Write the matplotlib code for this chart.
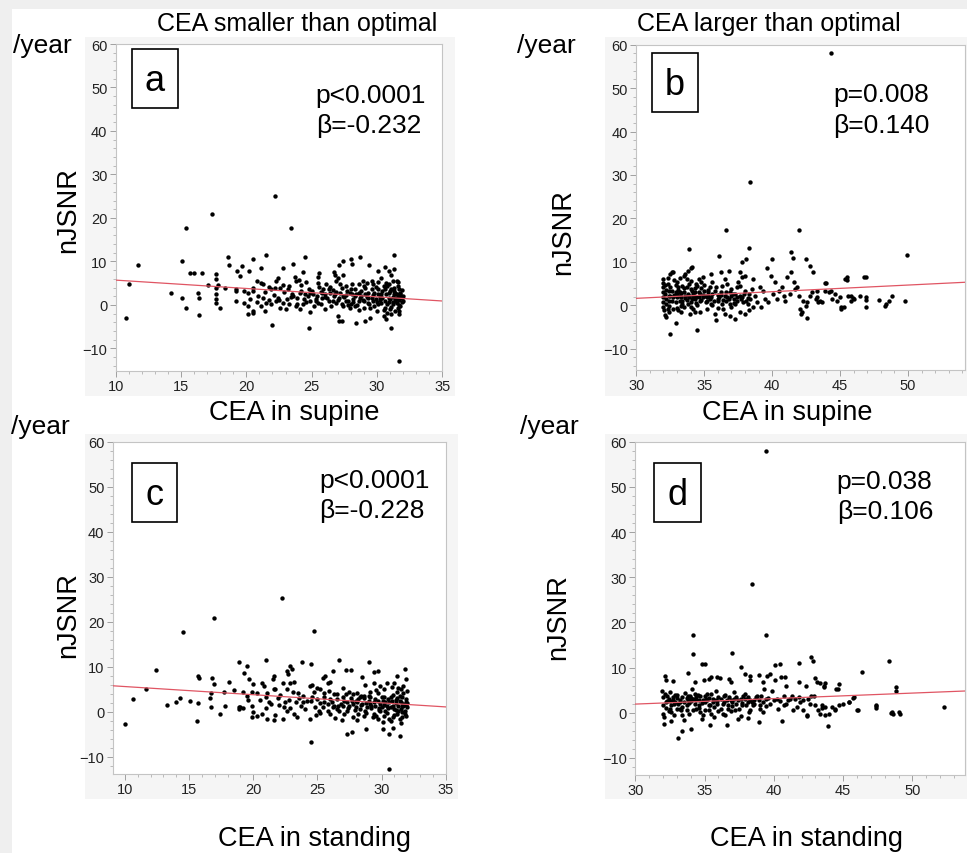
import matplotlib
matplotlib.use('Agg')
import matplotlib.pyplot as plt
from matplotlib.patches import Rectangle
from matplotlib.ticker import MultipleLocator

plt.rcParams['font.family'] = ['Liberation Sans', 'DejaVu Sans']

W, H = 967, 854

# ---- data (x = CEA, y = nJSNR /year) ----
pts_a = [
    (10.8, -3.0), (11.0, 4.9), (11.7, 9.1), (14.2, 2.8), (15.1, 10.0), (15.1, 1.5), (15.4, 17.6), (15.4, -0.6),
    (15.7, 7.4), (16.0, 7.4), (16.3, 2.7), (16.4, 1.6), (16.4, -2.3), (16.6, 7.4), (17.1, 4.6), (17.4, 20.8),
    (17.7, 7.0), (17.7, 6.0), (17.8, 4.5), (17.7, 3.8), (17.7, 2.6), (17.7, 1.3), (17.7, 0.4), (18.0, -0.6),
    (18.6, 11.0), (18.7, 9.2), (19.7, 9.0), (20.5, 10.5), (21.5, 11.4), (24.5, 11.0), (28.0, 10.5), (28.7, 11.1),
    (31.3, 11.5), (27.4, 10.0), (27.1, 9.1), (28.1, 9.5),
    (19.3, 7.7), (19.5, 6.7), (20.2, 7.7), (21.1, 8.4), (22.8, 8.4), (23.6, 9.4), (24.3, 7.6), (25.6, 7.3),
    (26.7, 7.6), (26.8, 6.8), (27.4, 6.8), (29.4, 9.2), (30.1, 7.7), (30.6, 8.8), (30.9, 7.7), (31.3, 8.3),
    (31.1, 6.8), (31.5, 5.5),
    (18.4, 3.8), (19.2, 3.6), (19.8, 3.2), (20.1, 2.8), (20.5, 3.8), (20.8, 5.5), (21.1, 5.0), (21.3, 4.7),
    (21.7, 4.2), (21.9, 3.6), (22.3, 5.5), (22.4, 6.3), (22.6, 4.0), (22.8, 4.5), (23.2, 3.7), (23.3, 4.4),
    (23.7, 6.5), (23.8, 5.5), (24.0, 5.7), (24.2, 4.5), (24.6, 5.3), (24.8, 3.7), (25.5, 6.4), (25.5, 5.1),
    (25.6, 4.2), (25.9, 3.6), (26.1, 4.9), (26.4, 4.2), (26.9, 5.5), (27.0, 6.1), (27.2, 4.9), (27.6, 4.4),
    (28.1, 4.9), (28.3, 3.7), (28.6, 4.7), (28.9, 5.5), (29.0, 4.4), (29.2, 5.1), (29.6, 5.5), (29.7, 4.7),
    (30.1, 5.3), (30.3, 6.1), (30.5, 4.4), (30.7, 5.1), (30.9, 4.7), (31.2, 5.5), (31.3, 4.0), (31.6, 5.3),
    (31.7, 3.6),
    (19.2, 0.9), (19.8, 0.5), (20.1, -0.2), (20.5, -1.4), (20.1, -2.2), (20.5, -1.8), (21.1, -0.2), (21.3, 1.7),
    (21.5, 0.5), (21.4, -1.4), (21.9, 0.3), (22.3, 0.9), (22.4, 1.7), (22.6, -0.6), (22.8, 0.5), (23.1, 1.3),
    (23.3, 0.1), (23.6, 2.1), (23.8, -0.2), (24.1, -1.0), (24.4, 1.3), (24.7, 2.1), (24.9, 0.9), (25.2, -0.2),
    (25.5, 0.5), (25.8, 1.7), (26.0, -1.0), (26.3, 0.9), (26.5, -0.2), (26.7, 2.1), (26.9, 0.5), (27.0, -2.6),
    (27.1, -3.7), (27.3, -3.7), (27.4, -0.2), (27.6, 0.9), (27.9, -0.6), (28.1, 2.4), (28.3, -0.2), (28.4, -4.1),
    (28.6, 0.9), (28.8, 2.1), (29.0, -0.6), (29.1, -3.7), (29.3, 0.5), (29.5, -2.9), (29.6, 1.7), (29.8, -0.2),
    (30.0, -1.4), (30.1, 2.4), (30.3, 0.5), (30.5, -2.6), (30.6, -0.6), (30.7, -3.3), (30.9, 1.7), (31.0, -1.0),
    (31.1, -2.2), (31.2, 0.1), (31.3, 2.4), (31.5, 1.3), (31.6, -0.6), (31.8, 2.4), (31.7, -2.2),
    (22.0, -4.7), (24.8, -5.2), (31.1, -5.4), (31.7, -12.8), (22.2, 25.1), (23.4, 17.7),
    (24.1, 2.8), (24.5, 2.4), (24.9, 2.8), (25.1, 2.4), (25.4, 2.1), (25.8, 2.8), (26.0, 2.4), (26.4, 2.8),
    (26.8, 2.4), (27.2, 2.8), (27.4, 2.1), (27.7, 3.2), (27.9, 2.8), (28.3, 2.1), (28.6, 2.8), (28.8, 3.2),
    (29.1, 2.4), (29.3, 2.8), (29.6, 3.6), (29.8, 2.8), (30.1, 3.6), (30.3, 2.4), (30.6, 3.6), (30.9, 2.8),
    (31.1, 3.6), (31.4, 2.8), (31.6, 2.1), (31.8, 2.8), (32.0, 2.1),
    (26.2, 1.5), (26.6, 3.4), (27.0, 1.2), (27.3, 0.3), (27.5, 1.8), (27.8, 1.0), (28.0, 0.2), (28.2, 1.4),
    (28.5, 0.0), (28.7, 1.6), (29.0, 0.8), (29.2, 1.9), (29.4, 0.3), (29.7, 0.9), (29.9, 1.4), (30.0, 0.6),
    (30.2, 1.1), (30.4, 1.7), (30.6, 0.9), (30.8, 0.2), (31.0, 1.3), (31.2, 0.7), (31.4, 1.6), (31.5, 0.4),
    (31.7, 1.1), (31.9, 0.6), (31.9, 1.5), (31.8, -0.3), (31.4, -1.3), (30.8, -1.8), (25.3, 1.3), (25.7, 0.2),
    (24.3, 0.3), (23.9, 1.6), (23.5, 2.6), (22.9, 2.9), (22.1, 2.3), (21.7, 1.1), (20.9, 2.0), (20.3, 1.4),
    (19.2, 3.1), (20.5, 3.3),
    (25.0, 3.3), (25.3, 0.8), (25.7, 3.0), (26.0, 1.9), (26.3, 3.6), (26.6, 1.0), (26.9, 2.9), (27.1, 1.6),
    (27.3, 3.8), (27.6, 2.3), (27.8, -0.1), (28.0, 3.6), (28.2, 0.6), (28.4, 2.6), (28.6, -1.2), (28.9, 1.2),
    (29.1, 3.9), (29.3, 1.5), (29.5, -0.8), (29.7, 2.2), (29.9, 4.1), (30.1, 0.2), (30.2, 1.9), (30.4, 3.2),
    (30.5, -1.1), (30.7, 2.4), (30.8, 4.3), (30.9, 0.6), (31.0, 3.1), (31.1, -0.4), (31.2, 1.9), (31.3, 3.3),
    (31.4, 0.9), (31.5, 2.6), (31.6, 4.4), (31.7, 0.0), (31.8, 1.8), (31.9, 3.5), (32.0, 0.9), (31.7, -1.4),
    (22.5, 1.2), (23.0, -0.9), (23.4, 1.8), (23.9, 0.1), (24.2, 3.3), (24.6, 0.7), (24.9, -1.6), (22.2, 3.9),
    (21.4, 2.9), (20.8, 0.6),
]

pts_b = [
    (44.3, 58.0), (38.4, 28.5), (36.6, 17.3), (42.0, 17.3), (33.9, 13.0), (38.3, 13.2), (36.1, 11.3), (49.95, 11.5),
    (41.4, 12.2), (41.5, 11.0), (42.5, 10.7), (40.0, 10.7), (42.8, 9.0), (43.0, 7.7), (32.5, -6.6), (34.5, -5.8),
    (32.9, -4.1), (35.9, -3.5), (37.3, -3.1), (42.1, -2.1), (42.6, -3.0), (49.8, 1.1), (48.8, 2.2), (48.6, 1.1),
    (48.3, -0.1), (47.9, 1.3), (46.8, 6.4), (46.9, 1.3), (46.9, -0.3), (45.5, 6.4), (45.5, 5.9), (45.1, -0.9),
    (45.1, -0.4), (46.0, 1.4), (45.8, 2.2), (43.9, 5.1), (44.2, 3.0), (44.4, 1.4), (44.6, 2.6), (43.4, 0.8),
    (43.3, 1.8), (43.7, 0.7), (42.8, 2.2), (42.6, 0.7), (38.1, 10.7), (37.8, 10.0),
    (32.0, 6.05), (32.0, 5.1), (32.0, 4.1), (32.0, 3.0), (32.0, 1.8), (32.0, 0.7), (32.0, -0.3), (32.05, -1.2),
    (32.1, -2.2), (32.2, -2.8), (32.3, 6.2), (32.3, 4.9), (32.4, 3.4), (32.4, 2.2), (32.4, 1.1), (32.4, -0.1),
    (32.4, -1.6), (32.5, 7.2), (32.6, 7.6), (32.7, 7.7),
    (33.0, 5.3), (33.1, 4.1), (33.2, 3.0), (33.0, 1.8), (33.2, 1.1), (33.3, -0.1), (33.1, -1.2), (33.3, -1.6),
    (33.5, 6.8), (33.6, 7.2), (33.7, 6.05), (33.8, 8.0), (34.0, 8.5), (34.1, 8.9), (33.9, 4.9), (34.0, 3.7),
    (34.2, 2.6), (34.1, 1.5), (33.8, 0.3), (34.2, -0.9), (33.96, -2.0), (34.3, -1.6),
    (34.5, 4.5), (34.65, 6.05), (34.75, 5.3), (34.9, 6.4), (35.0, 3.4), (35.1, 2.2), (35.2, 1.1), (35.4, 4.1),
    (35.5, 7.2), (35.6, 5.3), (35.2, -0.9), (34.7, -1.6),
    (35.9, 4.1), (36.0, 2.4), (36.1, 1.8), (36.2, 7.6), (36.3, 0.3), (36.4, -0.9), (36.5, 6.05), (36.7, 4.9),
    (36.8, 8.0), (36.9, 3.0), (37.0, 2.2), (37.2, 1.5), (37.3, 0.3), (37.4, 4.1), (37.5, 5.3), (37.65, 7.6),
    (37.8, 6.4), (38.0, 6.8), (35.8, -2.0), (36.5, -2.0), (36.9, -2.5), (37.65, -1.5), (38.0, -2.0), (38.3, -1.2),
    (38.3, 2.6), (38.4, 1.5), (38.5, 3.7), (38.6, 6.05), (38.75, 2.2), (38.9, 0.7), (39.1, 4.1), (39.3, 3.4),
    (39.5, 1.5), (39.6, 8.5), (39.7, 0.7), (39.9, 6.8), (40.1, 2.6), (40.2, 5.3), (40.35, 1.5), (40.5, 3.4),
    (40.7, 4.1), (40.84, 2.2), (40.97, 1.1), (41.1, 6.4), (41.3, 2.6), (41.4, 7.6), (41.6, 5.3), (41.7, 3.7),
    (41.8, 4.1), (41.95, 2.2), (42.07, -0.9), (42.2, -1.6), (42.3, 1.1), (42.5, -0.1), (42.9, 3.0), (43.2, 1.5),
    (43.3, 3.4), (43.5, 1.1), (43.9, 3.4), (44.0, 5.1), (44.3, 3.4), (44.8, 1.1), (45.0, 1.8), (45.3, -0.5),
    (45.4, 6.05), (45.6, 2.2), (45.8, 1.1), (45.95, 1.6), (46.5, 2.2), (46.9, 6.4), (46.9, 1.8), (48.4, 0.3),
    (32.1, 2.6), (32.2, 1.5), (32.5, 2.2), (32.6, 1.1), (32.7, 1.8), (32.9, 3.0), (32.9, 0.7), (33.0, 2.6),
    (33.2, 2.2), (33.3, 1.8), (33.4, 1.1), (33.5, 3.0), (33.6, 2.2), (33.7, 1.3), (33.8, 2.6), (33.9, 1.8),
    (34.0, 0.8), (34.2, 2.2), (34.3, 1.5), (34.3, 3.0), (34.4, 0.5), (34.6, 1.8), (34.7, 2.6), (34.8, 1.3),
    (34.9, 1.8), (35.1, 0.7), (35.3, 2.2), (35.4, 1.5), (35.6, 2.6), (35.7, 1.1), (36.05, 1.5), (36.2, 3.0),
    (36.4, 1.3), (36.5, 2.2), (36.6, 1.1), (36.7, 1.8), (36.9, 0.3), (37.1, 2.6), (37.4, 1.8), (37.45, 1.1),
    (37.6, 2.2), (37.7, 1.5), (37.85, 0.7), (37.9, 2.6), (38.1, 1.1),
    (34.0, 5.5), (33.4, 4.5), (32.8, 5.8), (33.2, 6.3), (34.4, 4.8), (34.8, 3.9), (35.3, 3.1), (32.2, 0.2),
    (32.7, -0.8), (33.5, -0.5), (34.5, 0.0), (35.5, 0.4), (36.0, -0.6), (37.0, -0.4), (38.2, 0.3), (38.6, -0.5),
    (39.2, -0.3),
    (32.1, 4.6), (32.2, 3.6), (32.3, -0.9), (32.5, 4.3), (32.6, 3.2), (32.8, 2.4), (32.9, 4.6), (33.0, -0.6),
    (33.1, 3.5), (33.3, 2.8), (33.4, 0.4), (33.5, 3.9), (33.6, 1.6), (33.7, 4.3), (33.9, 2.2), (34.0, -0.3),
    (34.1, 3.3), (34.3, 4.0), (34.4, 1.9), (34.6, 3.0), (34.7, 0.9), (34.9, 2.4), (35.0, 4.6), (35.2, 1.8),
    (35.3, 3.6), (35.5, 2.0), (35.6, 0.0), (35.8, 3.3), (36.0, 1.0), (36.2, 2.3), (36.3, 4.4), (36.6, 3.0),
    (36.8, 1.4), (37.0, 3.8), (37.2, 0.6), (37.3, 2.6), (37.6, 4.5), (37.8, 1.9), (38.0, 3.2), (38.2, 1.7),
]

pts_c = [
    (10.0, -2.8), (10.6, 2.9), (11.6, 5.0), (12.4, 9.3), (13.3, 1.6), (14.0, 2.2), (14.3, 3.1), (14.5, 17.7),
    (15.1, 2.5), (15.6, -2.1), (15.7, 1.9), (16.7, 4.3), (16.9, 20.9), (18.9, 0.6), (19.0, 1.0), (22.2, 25.2),
    (24.7, 18.0), (24.5, -6.6), (30.6, -12.6),
    (18.9, 11.1), (19.5, 10.2), (21.0, 11.5), (23.8, 11.1), (24.5, 10.7), (26.7, 11.6), (29.0, 11.1), (27.2, 9.2),
    (27.6, 9.2), (19.3, 8.6), (19.7, 7.4), (21.6, 8.0), (21.5, 7.3), (22.6, 9.0), (22.9, 10.1), (23.0, 9.6),
    (22.7, 8.4), (25.6, 7.9), (26.2, 9.0), (25.4, 7.6), (29.4, 8.8), (29.7, 9.0), (31.8, 9.6), (31.2, 8.0),
    (31.9, 7.4), (28.5, 7.8),
    (15.7, 7.9), (15.8, 7.5), (16.8, 7.5), (16.9, 6.2), (18.1, 6.7), (17.7, 4.5), (18.5, 4.8), (19.2, 4.5),
    (19.5, 3.6), (19.6, 2.7), (20.0, 6.2), (19.9, 4.5), (20.3, 4.3), (20.7, 6.3), (20.8, 5.8), (21.1, 4.2),
    (21.0, 3.4), (21.6, 5.0), (21.7, 5.0), (22.1, 3.7), (22.3, 6.5), (22.6, 5.0), (22.9, 6.4), (23.2, 6.7),
    (23.1, 4.5), (23.5, 4.3), (23.9, 3.6), (24.4, 5.8), (24.6, 5.9), (24.7, 4.5), (25.0, 5.4), (25.2, 5.0),
    (25.5, 4.3), (25.8, 6.5), (26.0, 6.7), (26.3, 3.9), (26.5, 3.9), (27.0, 5.4), (27.5, 4.5), (27.8, 3.9),
    (28.1, 4.3), (28.4, 3.6), (28.7, 5.9), (29.1, 4.5), (29.4, 6.5), (29.7, 4.3), (29.9, 5.8), (30.2, 5.0),
    (30.4, 6.5), (30.8, 5.6), (31.0, 6.5), (31.2, 4.5), (31.5, 5.0), (31.7, 5.8), (32.0, 4.7),
    (16.6, 3.0), (16.7, 1.1), (17.4, -0.5), (17.8, 1.4), (18.9, 1.1), (19.2, 0.8), (19.9, 1.2), (20.0, -0.1),
    (19.9, -1.2), (20.3, -0.9), (20.7, -0.5), (21.0, 0.8), (21.1, -1.6), (21.4, 1.7), (21.6, -1.8), (21.7, -0.7),
    (22.0, 1.5), (22.3, -1.6), (22.5, 2.1), (22.6, 0.2), (22.9, 0.8), (23.2, -0.5), (23.4, -1.2), (23.7, 1.4),
    (23.9, 2.1), (24.2, 2.5), (24.4, -1.5), (24.8, 1.0), (25.1, 0.2), (25.2, -0.3), (25.5, 2.1), (25.8, 0.2),
    (26.0, -0.5), (26.3, 1.4), (26.5, 0.6), (26.9, -1.8), (27.1, -0.5), (27.3, 0.2), (27.5, 1.4), (27.8, -1.2),
    (28.1, 2.1), (28.3, 0.6), (28.6, -0.9), (28.9, 1.0), (29.1, 1.7), (29.4, -0.5), (29.7, -1.6), (29.9, 0.2),
    (30.2, -0.9), (30.4, 1.4), (30.7, -2.0), (31.0, 0.6), (31.2, -0.5), (31.4, -1.6), (31.6, -0.1), (31.9, -0.9),
    (32.0, 1.0),
    (24.5, 2.5), (25.0, 2.8), (25.5, 3.2), (26.0, 2.8), (26.5, 2.8), (27.1, 2.5), (27.6, 3.0), (28.0, 2.5),
    (28.2, 2.8), (28.6, 3.0), (28.8, 1.9), (29.0, 2.5), (29.4, 2.2), (29.7, 2.5), (29.9, 1.7), (30.1, 2.5),
    (30.3, 2.2), (30.6, 2.1), (30.8, 2.5), (31.1, 1.9), (31.4, 2.5), (31.5, 2.1), (31.7, 1.7), (31.9, 2.2),
    (29.1, 3.2), (28.6, 3.6), (30.2, 3.2), (30.7, 3.4), (31.2, 3.0), (31.6, 3.2), (27.8, 1.7), (27.3, 2.1),
    (26.8, 1.7), (25.8, 1.7), (25.2, 1.9),
    (27.3, -5.0), (27.7, -4.4), (28.8, -3.7), (30.6, -5.0), (31.4, -5.3), (30.1, -3.8), (30.9, -3.5),
    (26.2, 1.1), (26.7, 0.3), (27.0, 1.3), (27.9, 0.4), (28.4, 1.5), (28.7, 0.2), (29.2, 0.9), (29.5, 1.3),
    (29.8, 0.5), (30.0, 1.1), (30.3, 0.1), (30.5, 0.9), (30.9, 1.4), (31.1, 0.4), (31.3, 1.2), (31.5, 0.7),
    (31.7, 1.3), (31.8, 0.3), (31.9, 1.6), (31.6, -1.1), (30.9, -1.2), (30.1, -2.3), (29.3, -1.1), (28.2, -0.4),
    (24.0, 0.6), (23.6, 3.1), (22.8, 2.6), (21.9, 3.0), (21.2, 2.2), (20.5, 2.7), (24.9, -0.6), (26.4, -1.3),
    (26.1, 2.1), (26.6, 1.2), (27.0, 3.3), (27.4, 0.8), (27.7, 2.4), (28.0, 1.1), (28.3, 3.2), (28.5, 1.8),
    (28.8, -0.3), (29.0, 3.6), (29.2, 1.4), (29.5, 2.8), (29.8, 0.9), (30.0, 3.4), (30.2, 1.6), (30.4, -0.2),
    (30.5, 2.9), (30.7, 1.1), (30.9, 3.7), (31.0, -0.6), (31.1, 2.7), (31.3, 0.2), (31.4, 3.6), (31.6, 1.4),
    (31.7, 4.1), (31.8, -0.4), (31.9, 2.9), (32.0, 1.9), (31.5, -2.4), (30.6, -1.5), (29.6, -0.9), (28.1, -1.9),
    (25.4, 1.0), (24.6, 3.3), (23.3, 2.3), (22.4, 1.0), (25.9, 4.6), (27.2, 4.0), (29.6, 4.8), (31.3, 5.4),
]

pts_d = [
    (39.4, 57.9), (38.4, 28.6), (34.2, 17.3), (39.4, 17.3), (34.2, 13.1), (37.0, 13.2), (48.3, 11.5), (52.3, 1.2),
    (41.8, 10.9), (42.7, 12.3), (42.8, 11.4), (46.4, 9.0), (37.6, 10.1), (34.8, 10.8), (35.0, 10.8), (33.8, 8.8),
    (33.1, -5.6), (33.4, -4.0), (34.0, -3.7), (43.9, -3.0), (40.6, -1.9), (42.4, -0.8), (44.6, 5.2), (44.7, 6.4),
    (45.0, 2.0), (45.4, 2.3), (45.8, 3.4), (46.1, 0.6), (47.4, 1.6), (47.4, 1.1), (48.45, -0.1), (48.6, -0.4),
    (48.8, 5.6), (48.8, 4.9), (49.0, 0.05), (49.1, -0.25), (43.6, 5.8), (43.7, 6.5), (43.1, 6.7), (43.0, 7.6),
    (43.7, 1.2), (43.3, -0.25), (44.0, -0.3), (44.4, 0.5), (43.5, 1.7),
    (32.15, 8.1), (32.2, 7.3), (32.75, 7.1), (34.3, 6.8), (34.94, 7.3), (35.3, 7.5), (35.5, 7.9), (35.9, 8.0),
    (36.1, 7.7), (36.8, 7.5), (36.9, 6.8), (37.9, 8.6), (38.3, 8.2), (38.3, 7.3), (38.9, 8.4), (39.25, 6.8),
    (39.3, 5.3), (39.5, 8.1), (39.7, 8.6), (39.85, 4.9), (40.1, 10.6), (40.1, 7.3), (40.45, 10.8), (40.55, 7.9),
    (40.8, 7.8), (40.9, 6.0), (41.3, 3.8), (41.85, 6.8), (42.3, 5.9), (42.7, 3.8), (43.3, 6.6), (43.65, 5.65),
    (44.5, 5.3), (45.7, 3.2),
    (31.9, 4.9), (32.15, 4.2), (32.4, 3.1), (32.0, 1.6), (32.0, -0.25), (32.1, -1.0), (32.2, 2.3), (32.5, 0.9),
    (32.6, 1.6), (32.75, 2.7), (33.0, 3.2), (33.1, 2.0), (33.2, 0.9), (33.35, -0.6), (33.5, -1.7), (33.7, 1.6),
    (33.8, 2.7), (33.95, 3.8), (34.1, 5.3), (34.3, 4.2), (34.4, 2.7), (34.6, 1.6), (34.7, 0.1), (34.8, -1.4),
    (35.0, 2.3), (35.2, 4.2), (35.4, 1.6), (35.5, -0.25), (35.6, 3.1), (35.8, 4.9), (36.0, 3.4), (36.2, 0.9),
    (36.4, 2.3), (36.5, -0.6), (36.6, -2.8), (36.7, 1.6), (36.8, 3.4), (37.1, 4.55), (37.2, 0.5), (37.3, 2.0),
    (37.4, -1.4), (37.6, 3.1), (37.8, 3.8), (38.0, 1.6), (38.2, 0.1), (38.3, 2.7), (38.5, 1.6), (38.7, 3.4),
    (38.9, -2.1), (39.0, 0.9), (39.2, 0.1), (39.25, 2.3), (39.4, 3.1), (39.7, 2.0), (40.0, 2.7), (40.3, 0.9),
    (40.7, 1.6), (40.9, 2.0), (41.2, 3.1), (41.4, 0.5), (41.65, 1.2), (41.9, 2.3), (42.1, 0.7), (42.4, -0.6),
    (42.6, 2.0), (43.0, 1.6), (43.2, 0.5), (43.5, 1.0), (43.7, -0.6), (44.2, 1.2), (44.4, 0.9), (44.7, 1.6),
    (45.4, 2.3), (46.0, 0.7), (47.4, 1.45), (48.5, 0.1),
    (32.3, 3.8), (32.5, 2.5), (32.7, 3.4), (32.9, 2.3), (33.0, 4.0), (33.2, 2.9), (33.35, 3.4), (33.5, 2.3),
    (33.7, 3.2), (33.8, 3.7), (34.0, 2.5), (34.15, 3.1), (34.4, 3.4), (34.6, 2.7), (34.7, 3.7), (34.9, 2.9),
    (35.0, 3.7), (35.2, 2.7), (35.35, 3.2), (35.6, 2.3), (35.8, 2.9), (35.9, 2.0), (36.2, 3.1), (36.4, 3.7),
    (36.6, 2.7), (36.96, 2.3), (37.1, 3.1), (37.4, 2.7), (37.7, 2.2), (37.9, 3.1), (38.1, 3.4), (38.4, 2.3),
    (38.6, 2.9), (38.9, 2.7), (39.1, 3.8), (39.4, 1.45), (39.6, 3.2), (40.2, 3.1), (40.45, 2.5), (40.7, 3.7),
    (41.05, 2.7), (41.5, 3.1), (41.8, 3.4), (42.1, 2.7), (42.5, 3.1), (42.9, 3.7),
    (35.4, -2.8), (32.4, 0.3), (32.8, -0.5), (33.3, 0.6), (33.9, -0.2), (34.4, 0.9), (34.9, -0.6), (35.3, 0.5),
    (35.7, -1.0), (36.3, -0.3), (36.9, 0.3), (37.6, -0.8), (38.1, -1.2), (32.1, -2.6), (32.6, -1.8),
    (32.0, 3.5), (32.2, 1.1), (32.3, 2.6), (32.5, 4.5), (32.6, 0.2), (32.8, 1.9), (32.9, 3.9), (33.0, 0.9),
    (33.2, 2.4), (33.4, 1.2), (33.6, 4.3), (33.7, 0.5), (33.9, 2.1), (34.0, 3.3), (34.2, 0.6), (34.3, 2.0),
    (34.5, 3.9), (34.6, 1.1), (34.8, 2.2), (35.0, 0.6), (35.1, 3.0), (35.3, 1.8), (35.5, 4.1), (35.7, 1.3),
    (35.9, 2.6), (36.0, 0.3), (36.3, 1.9), (36.5, 3.9), (36.7, 0.8), (36.9, 2.9), (37.0, 1.5), (37.3, 3.4),
    (37.5, 0.9), (37.7, 1.8), (37.9, 4.2), (38.1, 2.4), (38.3, 0.6), (38.6, 2.0), (38.8, 3.7), (39.0, 1.8),
]

# regression lines (end points in data units)
line_a = ([10, 35], [5.7, 0.9])
line_b = ([30, 54.2], [1.6, 5.3])
line_c = ([9, 35], [5.8, 1.1])
line_d = ([30, 53.8], [1.9, 4.8])

letters = ['a', 'b', 'c', 'd']
p_texts = ['p<0.0001', 'p=0.008', 'p<0.0001', 'p=0.038']
beta_texts = ['β=-0.232', 'β=0.140', 'β=-0.228', 'β=0.106']
xlabels = ['CEA in supine', 'CEA in supine', 'CEA in standing', 'CEA in standing']
titles = ['CEA smaller than optimal', 'CEA larger than optimal']
xlims = [(10, 35), (30, 54.2), (9.04, 35), (30, 53.8)]
ylims = [(-15.2, 60), (-14.9, 60), (-13.8, 60), (-13.8, 60)]
xtick_sets = [[10, 15, 20, 25, 30, 35], [30, 35, 40, 45, 50], [10, 15, 20, 25, 30, 35], [30, 35, 40, 45, 50]]
yticks = [-10, 0, 10, 20, 30, 40, 50, 60]

# ---- layout in pixels (left, top, right, bottom) ----
ax_px = [(115.7, 45, 442.3, 372), (636.3, 45.7, 965, 371), (112.7, 442.7, 445.7, 775), (635.3, 442.7, 965, 776)]
bg_px = [(85, 38, 455, 397), (605, 38, 967, 397), (85, 435, 458, 800), (605, 435, 967, 800)]
box_px = [(131.7, 50, 177.7, 109), (651.7, 54, 698.3, 112.7), (131.7, 464, 176.7, 523.3), (654.3, 464, 701, 523.3)]
ptxt_px = [(315.7, 103, 133), (833.3, 102, 133), (319.3, 488, 518), (836.7, 489, 519)]
year_px = [(12.7, 53), (517, 53), (11, 434), (520, 434)]
ylab_px = [(68, 210), (563, 232), (68, 615), (558, 617)]
xlab_px = [(294, 420), (787, 420), (315, 846), (807, 846)]
title_px = [(157, 31), (637, 31)]


def fx(x):
    return x / W


def fy(y):
    return 1 - y / H


fig = plt.figure(figsize=(W / 100, H / 100), dpi=100, facecolor='#efefef')
fig.patches.append(Rectangle((fx(12), 0), 1, fy(10), transform=fig.transFigure,
                             facecolor='white', edgecolor='none', zorder=-20))
for l, t, r, b in bg_px:
    fig.patches.append(Rectangle((fx(l), fy(b)), fx(r) - fx(l), fy(t) - fy(b), transform=fig.transFigure,
                                 facecolor='#f5f5f5', edgecolor='none', zorder=-10))

all_pts = [pts_a, pts_b, pts_c, pts_d]
all_lines = [line_a, line_b, line_c, line_d]

for i in range(4):
    l, t, r, b = ax_px[i]
    ax = fig.add_axes([fx(l), fy(b), fx(r) - fx(l), fy(t) - fy(b)])
    ax.set_facecolor('white')
    xs = [p[0] for p in all_pts[i]]
    ys = [p[1] for p in all_pts[i]]
    ax.scatter(xs, ys, s=10, color='black', linewidths=0, zorder=3)
    ax.plot(all_lines[i][0], all_lines[i][1], color='#e05563', lw=0.9, zorder=4)
    ax.set_xlim(*xlims[i])
    ax.set_ylim(*ylims[i])
    ax.set_xticks(xtick_sets[i])
    ax.set_yticks(yticks)
    ax.xaxis.set_minor_locator(MultipleLocator(1))
    ax.yaxis.set_minor_locator(MultipleLocator(2))
    for sp in ax.spines.values():
        sp.set_color('#c4c4c4')
        sp.set_linewidth(0.8)
    ax.tick_params(which='major', direction='out', length=4, width=0.7, color='#a0a0a0',
                   labelsize=10.5, labelcolor='#222222', pad=2)
    ax.tick_params(which='minor', direction='out', length=2, width=0.6, color='#b0b0b0')

    # letter box
    bl, bt, br, bb = box_px[i]
    fig.patches.append(Rectangle((fx(bl), fy(bb)), fx(br) - fx(bl), fy(bt) - fy(bb), transform=fig.transFigure,
                                 facecolor='white', edgecolor='black', lw=1.2, zorder=5))
    fig.text(fx((bl + br) / 2), fy((bt + bb) / 2 + 2), letters[i], ha='center', va='center', fontsize=26, zorder=6)

    px, b1, b2 = ptxt_px[i]
    fig.text(fx(px), fy(b1), p_texts[i], ha='left', va='baseline', fontsize=19)
    fig.text(fx(px), fy(b2), beta_texts[i], ha='left', va='baseline', fontsize=19)

    fig.text(fx(year_px[i][0]), fy(year_px[i][1]), '/year', ha='left', va='baseline', fontsize=19)
    fig.text(fx(ylab_px[i][0]), fy(ylab_px[i][1]), 'nJSNR', ha='center', va='center', rotation=90, fontsize=19.5)
    fig.text(fx(xlab_px[i][0]), fy(xlab_px[i][1]), xlabels[i], ha='center', va='baseline', fontsize=19.5)

for j in range(2):
    fig.text(fx(title_px[j][0]), fy(title_px[j][1]), titles[j], ha='left', va='baseline', fontsize=18)

fig.savefig('out.png', dpi=100, facecolor=fig.get_facecolor())
